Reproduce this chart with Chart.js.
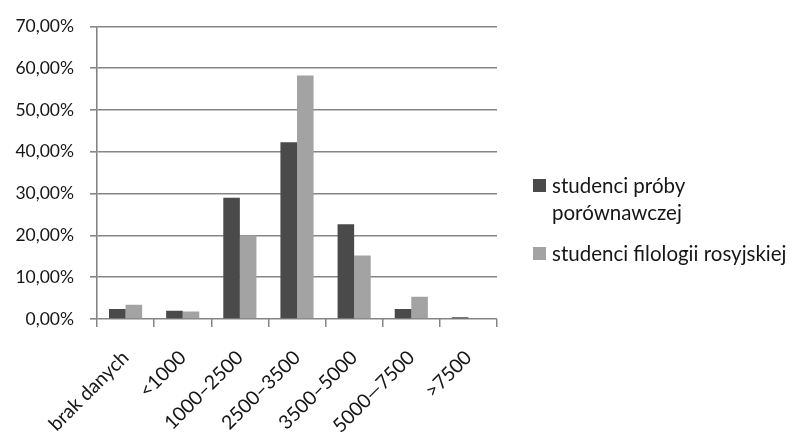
<!DOCTYPE html>
<html>
<head>
<meta charset="utf-8">
<script src="https://cdn.jsdelivr.net/npm/chart.js@4/dist/chart.umd.min.js"></script>
<style>
  html, body { margin: 0; padding: 0; background: #fff; }
  #wrap { position: relative; width: 794px; height: 434px; }
  #chart { position: absolute; left: 0; top: 0; }
  #legend { position: absolute; left: 533px; top: 172px; font-family: Lato, "Open Sans", sans-serif; font-size: 20.5px; color: #161616; }
  .item { position: relative; padding-left: 19px; line-height: 27px; }
  .item + .item { margin-top: 14px; }
  .sw { position: absolute; left: 0; top: 7px; width: 13px; height: 13px; }
</style>
</head>
<body>
<div id="wrap">
  <canvas id="chart" width="794" height="434"></canvas>
  <div id="legend"></div>
</div>
<script>
// Monthly income brackets (PLN) and share of respondents in each group, in percent
const categories = ['brak danych', '<1000', '1000\u20132500', '2500\u20133500', '3500\u20135000', '5000\u20147500', '>7500'];
const seriesNames = ['studenci próby porównawczej', 'studenci filologii rosyjskiej'];
const comparisonGroup = [2.4, 2.0, 29.0, 42.3, 22.7, 2.4, 0.4];
const russianPhilology = [3.4, 1.8, 20.0, 58.3, 15.2, 5.3, 0.0];
const yTicks = [0, 10, 20, 30, 40, 50, 60, 70];

const colors = ['#4a4a4a', '#a3a3a3'];
const font = 'Lato, "Open Sans", sans-serif';

const chart = new Chart(document.getElementById('chart'), {
  type: 'bar',
  data: {
    labels: categories,
    datasets: [
      { label: seriesNames[0], data: comparisonGroup, backgroundColor: colors[0] },
      { label: seriesNames[1], data: russianPhilology, backgroundColor: colors[1] }
    ]
  },
  options: {
    responsive: false,
    animation: false,
    devicePixelRatio: 1,
    layout: { padding: { top: 9, right: 297, left: 0, bottom: 0 } },
    datasets: { bar: { categoryPercentage: 0.58, barPercentage: 1.0 } },
    plugins: { legend: { display: false }, tooltip: { enabled: false } },
    scales: {
      x: {
        offset: true,
        grid: { offset: true, drawOnChartArea: false, drawTicks: true, tickLength: 8, color: '#858585', lineWidth: 1.5 },
        border: { display: false },
        ticks: {
          autoSkip: false, minRotation: 45, maxRotation: 45, padding: 19,
          color: '#161616', font: { family: font, size: 19.5 }
        },
        afterFit: (s) => { s.height = 434 - 319; }
      },
      y: {
        min: 0, max: 70,
        afterBuildTicks: (s) => { s.ticks = yTicks.map(v => ({ value: v })); },
        grid: { color: '#858585', lineWidth: 1.6, tickLength: 7 },
        border: { display: true, color: '#858585', width: 1.6 },
        ticks: {
          padding: 16, color: '#161616', font: { family: font, size: 17.5 },
          callback: (v) => v.toFixed(2).replace('.', ',') + '%'
        },
        afterFit: (s) => { s.width = 97; }
      }
    }
  }
});

// Legend built from the dataset names and colours
const legend = document.getElementById('legend');
const wrapAt = [14, 0];
chart.data.datasets.forEach((ds, i) => {
  const item = document.createElement('div');
  item.className = 'item';
  const sw = document.createElement('span');
  sw.className = 'sw';
  sw.style.background = ds.backgroundColor;
  item.appendChild(sw);
  const text = document.createElement('div');
  if (i === 0) {
    text.innerHTML = ds.label.slice(0, wrapAt[0]) + '<br>' + ds.label.slice(wrapAt[0] + 1);
  } else {
    text.textContent = ds.label;
  }
  item.appendChild(text);
  legend.appendChild(item);
});
</script>
</body>
</html>
